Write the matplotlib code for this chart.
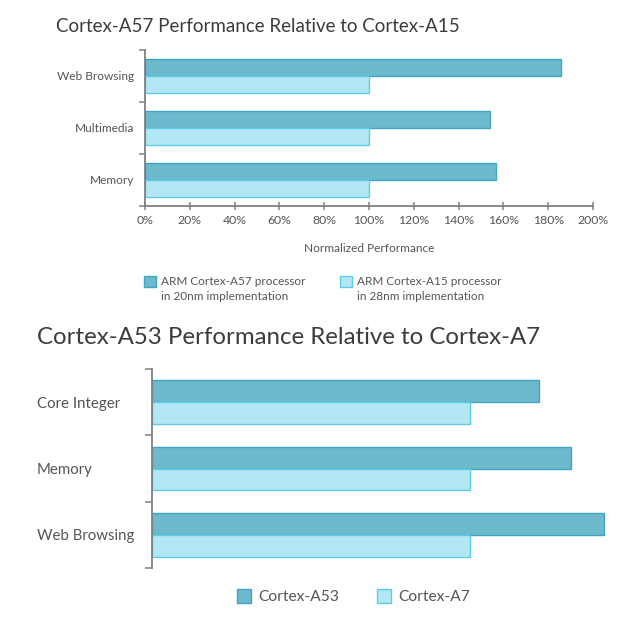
import matplotlib.pyplot as plt
from matplotlib.patches import Rectangle

# top chart data (percent, normalized to Cortex-A15 = 100)
top_cats = ["Web Browsing", "Multimedia", "Memory"]
a57 = [185.5, 154, 156.5]
a15 = [100, 100, 100]
top_ticks = [0, 20, 40, 60, 80, 100, 120, 140, 160, 180, 200]

# bottom chart data (percent, normalized to Cortex-A7 = 100)
bot_cats = ["Core Integer", "Memory", "Web Browsing"]
a53 = [121.6, 131.7, 142]
a7 = [100, 100, 100]

DARK = "#6dbacd"
DARK_EDGE = "#3fa6c1"
LIGHT = "#b3e7f3"
LIGHT_EDGE = "#5ccde8"
AXIS = "#808080"
TXT = "#555555"
TITLE = "#3c3c3c"

plt.rcParams['font.family'] = ['Lato', 'DejaVu Sans']

W, H = 640, 630
fig = plt.figure(figsize=(W / 100, H / 100), dpi=100)


def px(x0, y0, x1, y1):
    # pixel box -> figure fraction rect
    return [x0 / W, 1 - y1 / H, (x1 - x0) / W, (y1 - y0) / H]


def draw_bars(ax, cats, dark, light, bh):
    ys = list(range(len(cats)))
    ax.barh([y - bh / 2 for y in ys], dark, height=bh, color=DARK,
            edgecolor=DARK_EDGE, linewidth=1.0, zorder=2)
    ax.barh([y + bh / 2 for y in ys], light, height=bh, color=LIGHT,
            edgecolor=LIGHT_EDGE, linewidth=1.0, zorder=2)
    ax.set_ylim(len(cats) - 0.5, -0.5)
    ax.set_yticks([y - 0.5 for y in range(len(cats) + 1)])
    ax.set_yticklabels([])
    ax.set_yticks(ys, minor=True)
    ax.set_yticklabels(cats, minor=True)
    for s in ["top", "right"]:
        ax.spines[s].set_visible(False)
    ax.spines["left"].set_color(AXIS)
    ax.spines["left"].set_linewidth(1.3)


# ---- top chart
ax1 = fig.add_axes(px(145, 50, 593, 205.7))
draw_bars(ax1, top_cats, a57, a15, 0.33)
ax1.set_xlim(0, 200)
ax1.set_xticks(top_ticks)
ax1.set_xticklabels([f"{t}%" for t in top_ticks])
ax1.spines["bottom"].set_color(AXIS)
ax1.spines["bottom"].set_linewidth(1.3)
ax1.tick_params(axis="x", direction="inout", length=6, width=1.1, color=AXIS,
                labelsize=8.8, labelcolor=TXT, pad=4)
ax1.tick_params(axis="y", which="major", direction="out", length=4, width=1.1, color=AXIS)
ax1.tick_params(axis="y", which="minor", length=0, pad=8, labelsize=8.6, labelcolor=TXT)
ax1.set_xlabel("Normalized Performance", fontsize=8.6, color=TXT, labelpad=12)
fig.text(56 / W, 1 - 27 / H, "Cortex-A57 Performance Relative to Cortex-A15",
         fontsize=13.5, color=TITLE, va="center", ha="left")

# top legend
leg_top = [("ARM Cortex-A57 processor\nin 20nm implementation", DARK, DARK_EDGE, 144),
           ("ARM Cortex-A15 processor\nin 28nm implementation", LIGHT, LIGHT_EDGE, 340)]
for label, fc, ec, x in leg_top:
    fig.add_artist(Rectangle((x / W, 1 - 287 / H), 12 / W, 11 / H, facecolor=fc,
                             edgecolor=ec, linewidth=1.0, transform=fig.transFigure))
    fig.text((x + 17) / W, 1 - 276 / H, label, fontsize=8.5, color=TXT,
             va="top", ha="left", linespacing=1.45)

# ---- bottom chart
ax2 = fig.add_axes(px(152, 369, 629, 568))
draw_bars(ax2, bot_cats, a53, a7, 0.33)
ax2.set_xlim(0, 150)
ax2.set_xticks([])
ax2.spines["bottom"].set_visible(False)
ax2.tick_params(axis="y", which="major", direction="out", length=5, width=1.1, color=AXIS)
ax2.tick_params(axis="y", which="minor", length=0, pad=83, labelsize=10.8, labelcolor=TXT)
for lab in ax2.get_yticklabels(minor=True):
    lab.set_horizontalalignment("left")
fig.text(37 / W, 1 - 338 / H, "Cortex-A53 Performance Relative to Cortex-A7",
         fontsize=17.3, color=TITLE, va="center", ha="left")

leg_bot = [("Cortex-A53", DARK, DARK_EDGE, 237), ("Cortex-A7", LIGHT, LIGHT_EDGE, 377)]
for label, fc, ec, x in leg_bot:
    fig.add_artist(Rectangle((x / W, 1 - 603 / H), 14 / W, 14 / H, facecolor=fc,
                             edgecolor=ec, linewidth=1.0, transform=fig.transFigure))
    fig.text((x + 21) / W, 1 - 597 / H, label, fontsize=11.2, color=TXT,
             va="center", ha="left")

fig.savefig("out.png", dpi=100)
